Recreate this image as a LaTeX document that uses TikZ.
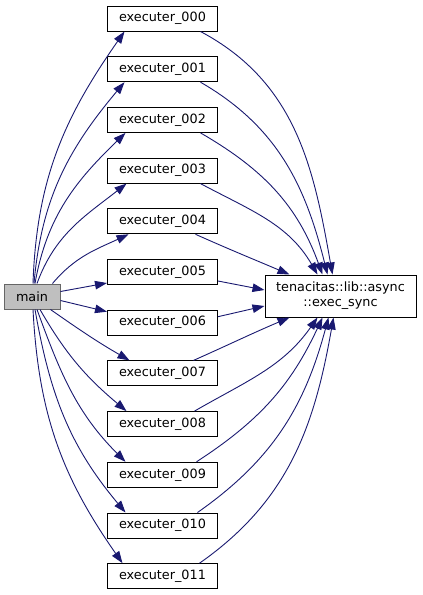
\documentclass[tikz,border=0pt]{standalone}
\usepackage{fontspec}
\setmainfont{DejaVu Sans}
\usetikzlibrary{arrows.meta}
\definecolor{callblue}{RGB}{25,25,112}
\definecolor{mainfill}{RGB}{191,191,191}
\tikzset{
  fnbox/.style={draw=black, line width=1pt, fill=white, inner sep=0pt,
    minimum width=110pt, minimum height=25pt, font=\fontsize{12.8}{15}\selectfont},
  callarrow/.style={draw=callblue, line width=0.9pt, -{Triangle[length=12pt,width=8.5pt]}}
}
\begin{document}
\begin{tikzpicture}[x=1pt,y=-1pt]
\useasboundingbox (0,0) rectangle (423,595);
\node[fnbox, fill=mainfill, draw=black!60, minimum width=56pt] (main) at (32,296.5) {main};
\node[fnbox] (e000) at (162.5,18.5) {executer\_000};
\node[fnbox] (e001) at (162.5,69.2) {executer\_001};
\node[fnbox] (e002) at (162.5,119.9) {executer\_002};
\node[fnbox] (e003) at (162.5,170.6) {executer\_003};
\node[fnbox] (e004) at (162.5,221.3) {executer\_004};
\node[fnbox] (e005) at (162.5,272) {executer\_005};
\node[fnbox] (e006) at (162.5,322.7) {executer\_006};
\node[fnbox] (e007) at (162.5,373.4) {executer\_007};
\node[fnbox] (e008) at (162.5,424.1) {executer\_008};
\node[fnbox] (e009) at (162.5,474.8) {executer\_009};
\node[fnbox] (e010) at (162.5,525.5) {executer\_010};
\node[fnbox] (e011) at (162.5,576.2) {executer\_011};
\node[fnbox, minimum width=151pt, minimum height=42pt, align=center] (ts) at (340.5,296) {tenacitas::lib::async\\::exec\_sync};
% main calls the executers
\draw[callarrow] ([xshift=1pt]main.north) to[out=88,in=235] ([xshift=-38pt]e000.south);
\draw[callarrow] ([xshift=2pt]main.north) to[out=85,in=230] ([xshift=-38pt]e001.south);
\draw[callarrow] ([xshift=3pt]main.north) to[out=80,in=224] ([xshift=-37pt]e002.south);
\draw[callarrow] ([xshift=5pt]main.north) to[out=70,in=218] ([xshift=-36pt]e003.south);
\draw[callarrow] ([xshift=-8pt]main.north east) to[out=50,in=205] ([xshift=-34pt]e004.south);
\draw[callarrow] ([yshift=5pt]main.east) -- ([yshift=2pt]e005.south west);
\draw[callarrow] ([yshift=-4pt]main.east) -- ([yshift=-2pt]e006.north west);
\draw[callarrow] ([xshift=-10pt]main.south east) to[out=-35,in=150] ([xshift=-33pt]e007.north);
\draw[callarrow] ([xshift=8pt]main.south) to[out=-60,in=140] ([xshift=-36pt]e008.north);
\draw[callarrow] ([xshift=5pt]main.south) to[out=-70,in=135] ([xshift=-37pt]e009.north);
\draw[callarrow] ([xshift=3pt]main.south) to[out=-80,in=130] ([xshift=-37pt]e010.north);
\draw[callarrow] ([xshift=1pt]main.south) to[out=-87,in=125] ([xshift=-40pt]e011.north);
% executers call exec_sync
\draw[callarrow] ([xshift=38pt]e000.south) to[out=-28,in=100] ([xshift=-8pt]ts.north);
\draw[callarrow] ([xshift=38pt]e001.south) to[out=-30,in=104] ([xshift=-13pt]ts.north);
\draw[callarrow] ([xshift=38pt]e002.south) to[out=-30,in=110] ([xshift=-18pt]ts.north);
\draw[callarrow] ([xshift=38pt]e003.south) to[out=-28,in=120] ([xshift=-23pt]ts.north);
\draw[callarrow] ([xshift=33pt]e004.south) to[out=-24,in=157] ([xshift=-51pt]ts.north);
\draw[callarrow] ([yshift=-9pt]e005.east) -- ([yshift=6pt]ts.west);
\draw[callarrow] ([yshift=6pt]e006.east) -- ([yshift=-10pt]ts.west);
\draw[callarrow] ([xshift=31pt]e007.north) to[out=24,in=-157] ([xshift=-51pt]ts.south);
\draw[callarrow] ([xshift=32pt]e008.north) to[out=30,in=-125] ([xshift=-23pt]ts.south);
\draw[callarrow] ([xshift=34pt]e009.north) to[out=33,in=-115] ([xshift=-18pt]ts.south);
\draw[callarrow] ([xshift=35pt]e010.north) to[out=35,in=-105] ([xshift=-12pt]ts.south);
\draw[callarrow] ([xshift=37pt]e011.north) to[out=35,in=-100] ([xshift=-7pt]ts.south);
\end{tikzpicture}
\end{document}
